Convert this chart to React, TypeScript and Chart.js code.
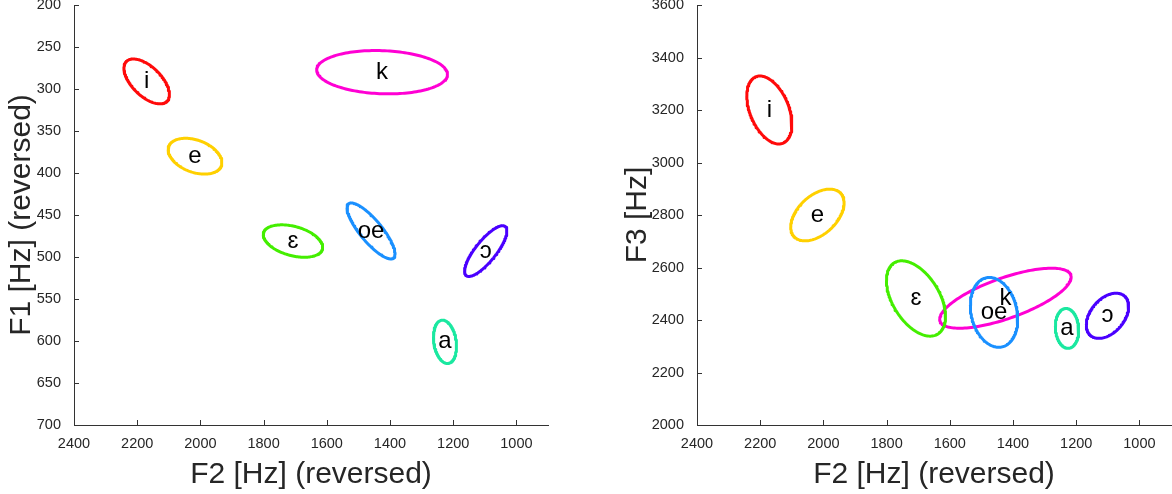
import React, { useEffect, useRef } from 'react';
import { Chart, registerables } from 'chart.js';

Chart.register(...registerables);

// ---- data ----
const vowelLabels = ['i', 'e', 'ɛ', 'oe', 'a', 'ɔ', 'k'];
const vowelColors = ['#FF0A0A', '#FFD000', '#44EE00', '#1A90FF', '#1AE8A0', '#4A00FF', '#FF00D4'];

// Left panel: F2 (x) vs F1 (y) — centre, half-extent, correlation
const f2CenterA = [2170, 2017, 1707, 1460, 1226, 1097, 1425];
const f2SpreadA = [72, 85, 94, 76, 36.5, 67, 207];
const f1Center = [291, 380, 481, 469, 601, 493, 280];
const f1Spread = [26.7, 21.3, 19.3, 33.3, 25.8, 30.2, 25.8];
const f2f1Corr = [-0.58, -0.35, -0.38, -0.82, -0.2, 0.8, -0.1];

// Right panel: F2 (x) vs F3 (y)
const f2CenterB = [2171, 2019, 1707, 1460, 1229, 1101, 1424];
const f2SpreadB = [71.4, 84.5, 93.5, 75, 37, 67, 208];
const f3Center = [3200, 2800, 2482, 2429, 2368, 2416, 2483];
const f3Spread = [129.5, 98.5, 143.5, 133, 76, 86, 114.3];
const f2f3Corr = [0.42, -0.46, 0.48, 0.2, 0.1, -0.4, -0.7];

const f2Ticks = [2400, 2200, 2000, 1800, 1600, 1400, 1200, 1000];
const f1Ticks = [200, 250, 300, 350, 400, 450, 500, 550, 600, 650, 700];
const f3Ticks = [2000, 2200, 2400, 2600, 2800, 3000, 3200, 3400, 3600];

const FONT = '"Liberation Sans", Arial, Helvetica, sans-serif';
const AXIS_COLOR = '#333333';
const TEXT_COLOR = '#262626';

function ellipsePoints(cx: number, cy: number, sx: number, sy: number, rho: number) {
  const pts: { x: number; y: number }[] = [];
  const n = 160;
  const q = Math.sqrt(1 - rho * rho);
  for (let k = 0; k <= n; k++) {
    const t = (k / n) * Math.PI * 2;
    pts.push({ x: cx + sx * Math.cos(t), y: cy + sy * (rho * Math.cos(t) + q * Math.sin(t)) });
  }
  return pts;
}

function buildConfig(opts: {
  cx: number[]; sx: number[]; cy: number[]; sy: number[]; rho: number[];
  yTicks: number[]; yMin: number; yMax: number; yReverse: boolean; yTitle: string;
  yWidth: number; yTitlePad: number; padRight: number;
}): any {
  const datasets = vowelLabels.map((lab, i) => ({
    label: lab,
    data: ellipsePoints(opts.cx[i], opts.cy[i], opts.sx[i], opts.sy[i], opts.rho[i]),
    showLine: true,
    borderColor: vowelColors[i],
    backgroundColor: vowelColors[i],
    borderWidth: 3,
    borderJoinStyle: 'round',
    borderCapStyle: 'round',
    pointRadius: 0,
    pointHoverRadius: 0,
    fill: false,
    tension: 0,
  }));

  const decor = {
    id: 'decor',
    afterDatasetsDraw(chart: any) {
      const ctx = chart.ctx;
      const xs = chart.scales.x;
      const ys = chart.scales.y;
      ctx.save();
      ctx.font = `24px ${FONT}`;
      ctx.fillStyle = '#000';
      ctx.textAlign = 'center';
      ctx.textBaseline = 'middle';
      vowelLabels.forEach((lab, i) => {
        ctx.fillText(lab, xs.getPixelForValue(opts.cx[i]), ys.getPixelForValue(opts.cy[i]));
      });
      ctx.restore();
    },
    afterDraw(chart: any) {
      const ctx = chart.ctx;
      const xs = chart.scales.x;
      const ys = chart.scales.y;
      const a = chart.chartArea;
      ctx.save();
      ctx.strokeStyle = AXIS_COLOR;
      ctx.lineWidth = 1;
      ctx.beginPath();
      f2Ticks.forEach((v) => {
        const px = Math.round(xs.getPixelForValue(v)) + 0.5;
        ctx.moveTo(px, a.bottom);
        ctx.lineTo(px, a.bottom - 5);
      });
      opts.yTicks.forEach((v) => {
        const py = Math.round(ys.getPixelForValue(v)) + 0.5;
        ctx.moveTo(a.left, py);
        ctx.lineTo(a.left + 5, py);
      });
      ctx.stroke();
      ctx.restore();
    },
  };

  return {
    type: 'scatter',
    data: { datasets },
    options: {
      responsive: false,
      animation: false,
      devicePixelRatio: 1,
      layout: { padding: { top: 5, right: opts.padRight, left: 0, bottom: 0 } },
      plugins: { legend: { display: false }, tooltip: { enabled: false }, title: { display: false } },
      scales: {
        x: {
          type: 'linear',
          reverse: true,
          min: 900,
          max: 2400,
          grid: { display: false },
          border: { display: true, color: AXIS_COLOR, width: 1 },
          ticks: {
            color: TEXT_COLOR,
            font: { family: FONT, size: 14.5 },
            padding: 2,
            maxRotation: 0,
            autoSkip: false,
            callback: (v: any) => String(v),
          },
          afterBuildTicks: (s: any) => {
            s.ticks = f2Ticks.map((v) => ({ value: v }));
          },
          afterFit: (s: any) => {
            s.height = 69;
            s.paddingLeft = 0;
            s.paddingRight = 0;
          },
          title: {
            display: true,
            text: 'F2 [Hz] (reversed)',
            color: TEXT_COLOR,
            font: { family: FONT, size: 30 },
            padding: { top: 0, bottom: 1 },
          },
        },
        y: {
          type: 'linear',
          reverse: opts.yReverse,
          min: opts.yMin,
          max: opts.yMax,
          grid: { display: false },
          border: { display: true, color: AXIS_COLOR, width: 1 },
          ticks: {
            color: TEXT_COLOR,
            font: { family: FONT, size: 14.5 },
            padding: 5,
            autoSkip: false,
            callback: (v: any) => String(v),
          },
          afterBuildTicks: (s: any) => {
            s.ticks = opts.yTicks.map((v) => ({ value: v }));
          },
          afterFit: (s: any) => {
            s.width = opts.yWidth;
            s.paddingTop = 0;
            s.paddingBottom = 0;
          },
          title: {
            display: true,
            text: opts.yTitle,
            color: TEXT_COLOR,
            font: { family: FONT, size: 30 },
            padding: { top: opts.yTitlePad, bottom: 0 },
          },
        },
      },
    },
    plugins: [decor],
  };
}

export default function App() {
  const leftRef = useRef<HTMLCanvasElement | null>(null);
  const rightRef = useRef<HTMLCanvasElement | null>(null);

  useEffect(() => {
    document.body.style.margin = '0';
    const c1 = new Chart(
      leftRef.current as HTMLCanvasElement,
      buildConfig({
        cx: f2CenterA, sx: f2SpreadA, cy: f1Center, sy: f1Spread, rho: f2f1Corr,
        yTicks: f1Ticks, yMin: 200, yMax: 700, yReverse: true, yTitle: 'F1 [Hz] (reversed)',
        yWidth: 74, yTitlePad: 4, padRight: 38,
      })
    );
    const c2 = new Chart(
      rightRef.current as HTMLCanvasElement,
      buildConfig({
        cx: f2CenterB, sx: f2SpreadB, cy: f3Center, sy: f3Spread, rho: f2f3Corr,
        yTicks: f3Ticks, yMin: 2000, yMax: 3600, yReverse: false, yTitle: 'F3 [Hz]',
        yWidth: 111, yTitlePad: 34, padRight: 1,
      })
    );
    return () => {
      c1.destroy();
      c2.destroy();
    };
  }, []);

  return (
    <div style={{ position: 'absolute', left: 0, top: 0, width: 1172, height: 494, background: '#fff' }}>
      <canvas ref={leftRef} width={586} height={494} style={{ position: 'absolute', left: 0, top: 0, width: 586, height: 494 }} />
      <canvas ref={rightRef} width={586} height={494} style={{ position: 'absolute', left: 586, top: 0, width: 586, height: 494 }} />
    </div>
  );
}
